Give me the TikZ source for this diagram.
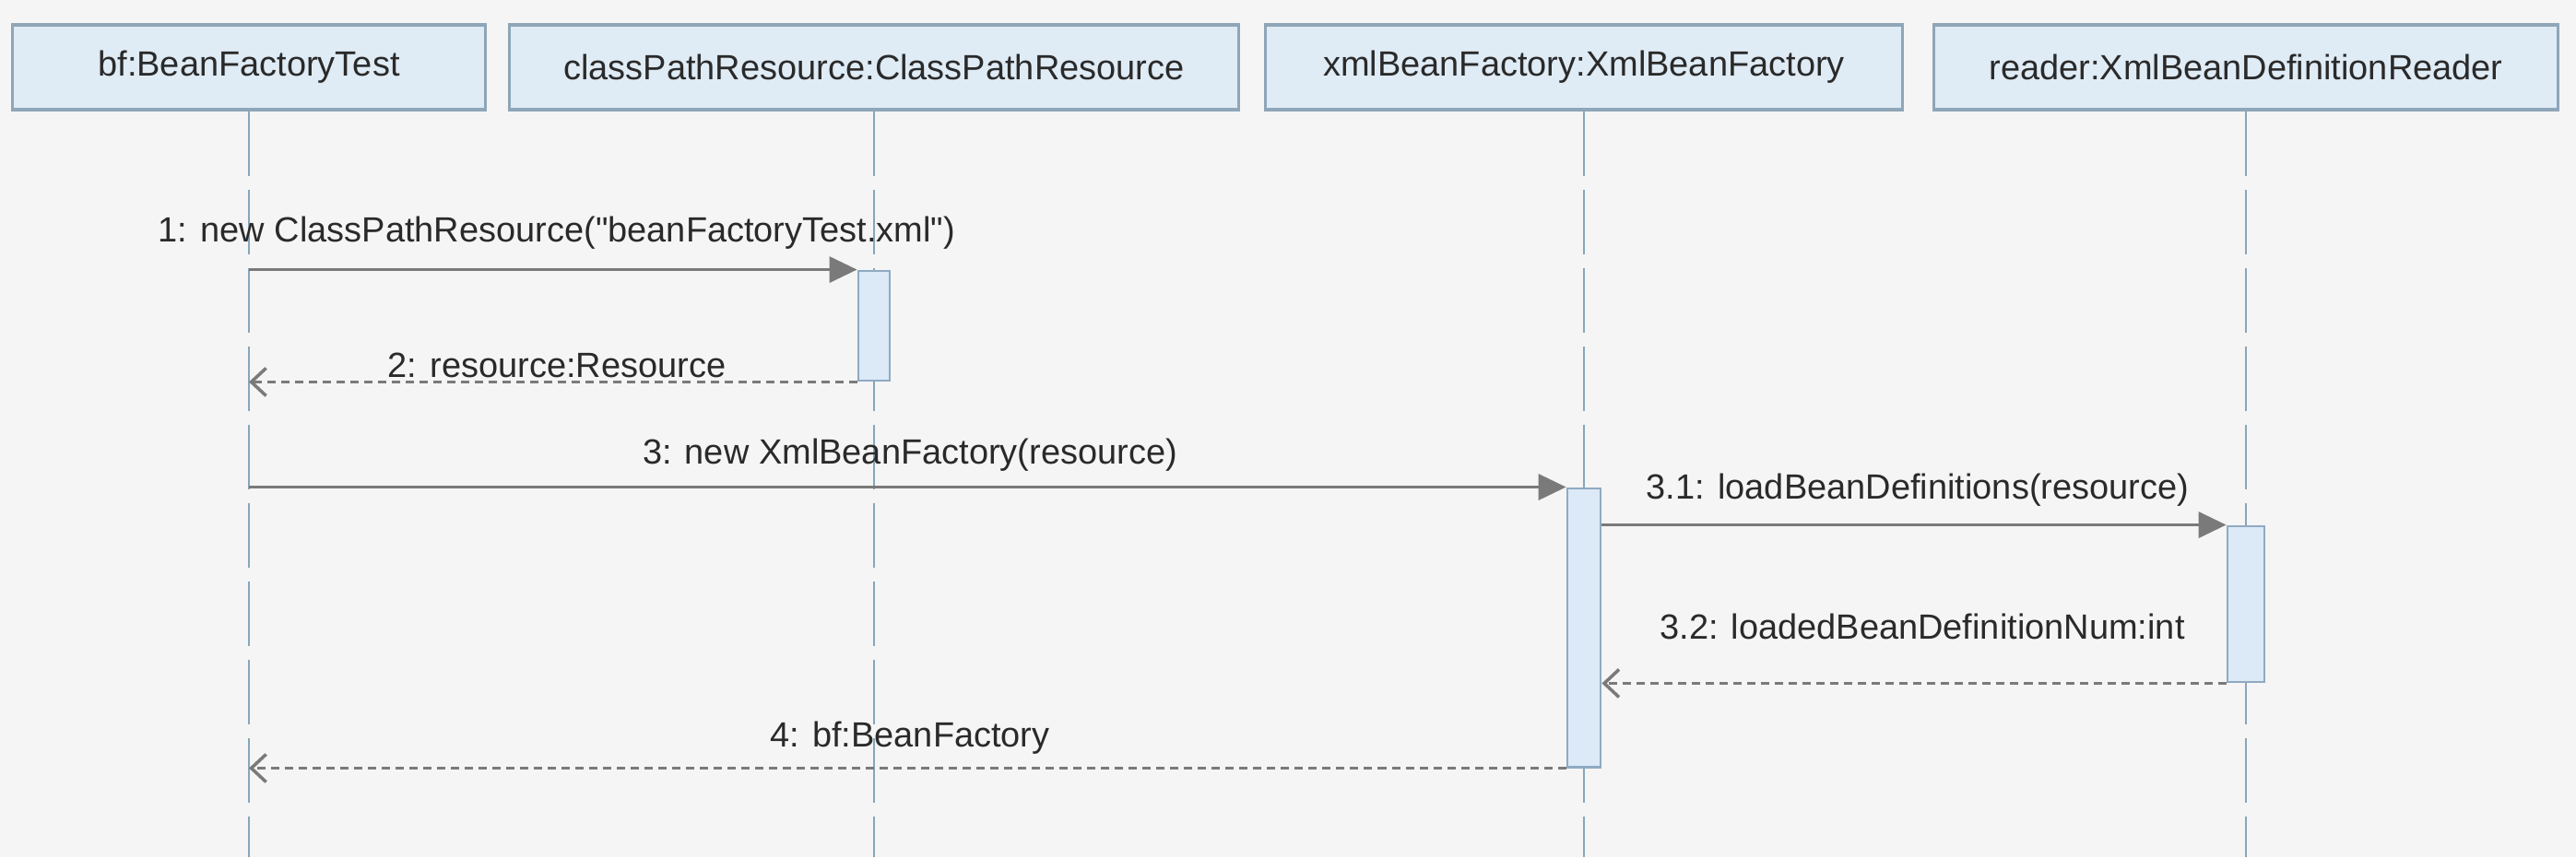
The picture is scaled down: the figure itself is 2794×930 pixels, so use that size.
\documentclass[tikz,border=0pt]{standalone}
\usepackage{fontspec}
\setmainfont{Liberation Sans}[Ligatures=TeXOff]
\usetikzlibrary{arrows.meta}
\definecolor{bgc}{HTML}{F5F5F5}
\definecolor{hdrfill}{HTML}{DFEBF5}
\definecolor{hdrdraw}{HTML}{8FA6B8}
\definecolor{lifec}{HTML}{86A6BA}
\definecolor{actfill}{HTML}{DCE9F6}
\definecolor{actdraw}{HTML}{8FAAC2}
\definecolor{msgc}{HTML}{7A7A7A}
\definecolor{txtc}{HTML}{2A2A2A}
\tikzset{
  hdr/.style={draw=hdrdraw, fill=hdrfill, line width=0.9pt, minimum height=0.92cm, inner sep=0pt, text=txtc, font=\fontsize{10.8}{13}\selectfont},
  lifeline/.style={draw=lifec, line width=0.6pt, dash pattern=on 0.7cm off 0.15cm},
  actbox/.style={draw=actdraw, fill=actfill, line width=0.8pt, inner sep=0pt},
  callmsg/.style={draw=msgc, line width=1pt, -{Triangle[length=0.3cm,width=0.28cm]}},
  retmsg/.style={draw=msgc, line width=0.9pt, dash pattern=on 0.09cm off 0.06cm, -{Straight Barb[length=0.16cm,width=0.3cm,line width=1pt]}},
  lbl/.style={text=txtc, font=\fontsize{10.8}{13}\selectfont, inner sep=0pt}
}
\begin{document}
\begin{tikzpicture}[x=0.01cm,y=-0.01cm]
\fill[bgc] (0,0) rectangle (2794,930);
\useasboundingbox (0,0) rectangle (2794,930);
% headers
\node[hdr, minimum width=5.12cm] (h1) at (270,73) {bf:BeanFactoryTest};
\node[hdr, minimum width=7.90cm] (h2) at (948,73) {classPathResource:ClassPathResource};
\node[hdr, minimum width=6.90cm] (h3) at (1718,73) {xmlBeanFactory:XmlBeanFactory};
\node[hdr, minimum width=6.77cm] (h4) at (2436,73) {reader:XmlBeanDefinitionReader};
% lifeline ends
\coordinate (e1) at (270,930);
\coordinate (e2) at (948,930);
\coordinate (e3) at (1718,930);
\coordinate (e4) at (2436,930);
\draw[lifeline] (h1.south) -- (e1);
\draw[lifeline] (h2.south) -- (e2);
\draw[lifeline] (h3.south) -- (e3);
\draw[lifeline] (h4.south) -- (e4);
% activation boxes
\node[actbox, minimum width=0.34cm, minimum height=1.19cm] (a1) at (948,353.5) {};
\node[actbox, minimum width=0.36cm, minimum height=3.02cm] (a3) at (1718,681) {};
\node[actbox, minimum width=0.40cm, minimum height=1.69cm] (a4) at (2436,655.5) {};
% messages
\draw[callmsg] (h1.south |- a1.north west) -- (a1.north west);
\draw[retmsg] (a1.south west) -- (h1.south |- a1.south west);
\draw[callmsg] (h1.south |- a3.north west) -- (a3.north west);
\draw[callmsg] (a3.east |- a4.north west) -- (a4.north west);
\draw[retmsg] (a4.south west) -- (a3.east |- a4.south west);
\draw[retmsg] (a3.south west) -- (h1.south |- a3.south west);
% labels
\node[lbl] (l1) at (604,253) {1: new ClassPathResource("beanFactoryTest.xml")};
\node[lbl] (l2) at (604,396) {2: resource:Resource};
\node[lbl] (l3) at (987,494) {3: new XmlBeanFactory(resource)};
\node[lbl] (l31) at (2080,532) {3.1: loadBeanDefinitions(resource)};
\node[lbl] (l32) at (2085,680) {3.2: loadedBeanDefinitionNum:int};
\node[lbl] (l4) at (987,801) {4: bf:BeanFactory};
\end{tikzpicture}
\end{document}
